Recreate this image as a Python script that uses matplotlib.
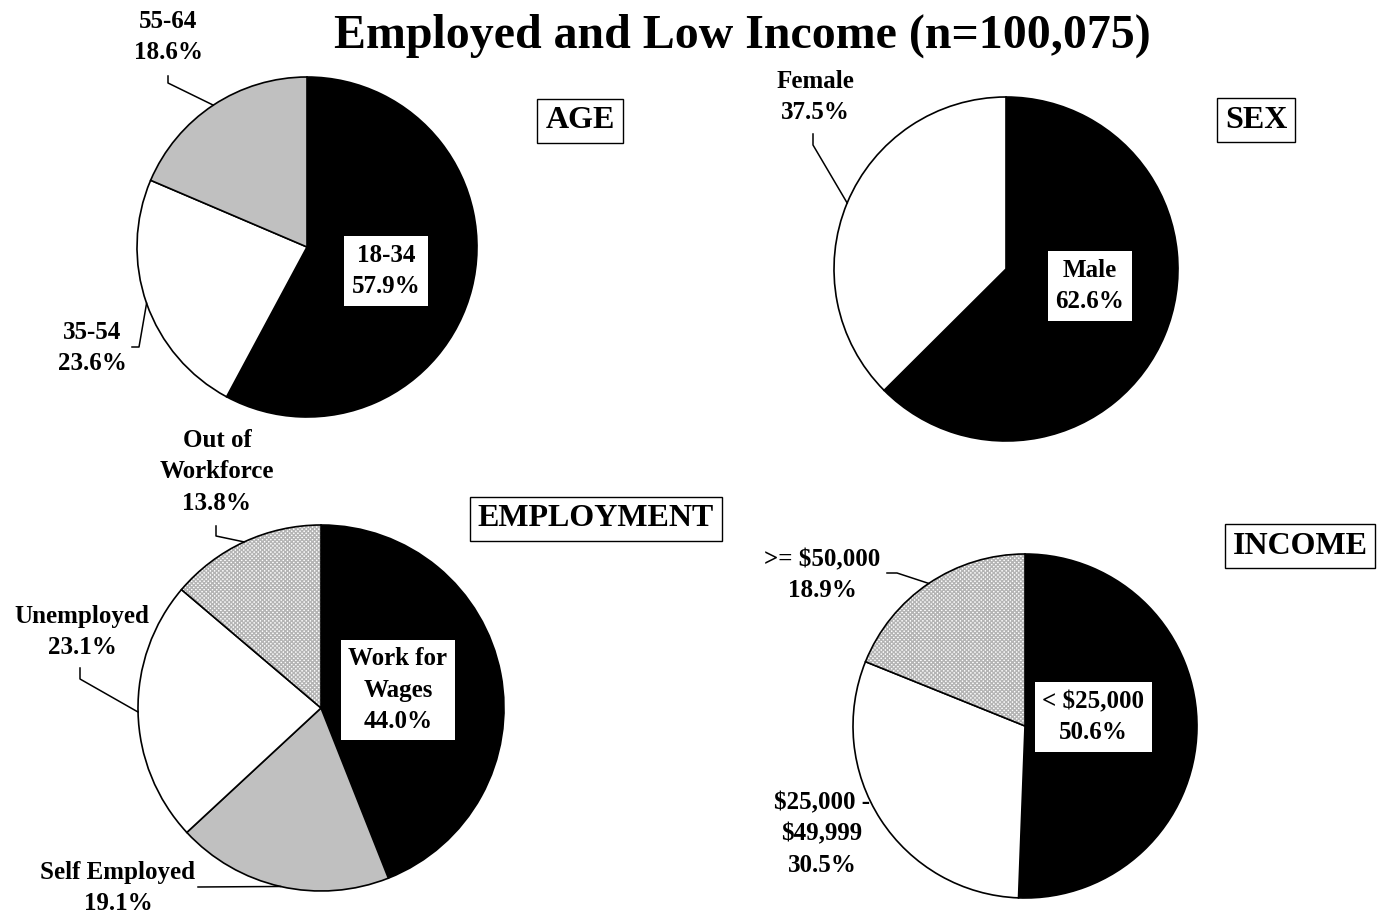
import numpy as np
import matplotlib
matplotlib.use("Agg")
import matplotlib.pyplot as plt
from matplotlib.patches import Wedge

plt.rcParams['font.family'] = ['Liberation Serif', 'DejaVu Serif']
plt.rcParams['font.weight'] = 'bold'

W, H = 1383, 917

# shares in percent
age_labels = ['18-34', '35-54', '55-64']
age_values = [57.9, 23.6, 18.6]
sex_labels = ['Male', 'Female']
sex_values = [62.6, 37.5]
emp_labels = ['Work for\nWages', 'Self Employed', 'Unemployed', 'Out of\nWorkforce']
emp_values = [44.0, 19.1, 23.1, 13.8]
inc_labels = ['< $25,000', '$25,000 -\n$49,999', '>= $50,000']
inc_values = [50.6, 30.5, 18.9]

BLACK, WHITE, GRAY, DOTS = 'black', 'white', '#c0c0c0', 'dots'

fig = plt.figure(figsize=(W / 100, H / 100), dpi=100)
ax = fig.add_axes([0, 0, 1, 1])


def P(x, y):
    # pixel position (y down) -> axes coords (y up)
    return x, H - y


def pie(values, colors, cx, cy, r):
    c = P(cx, cy)
    fc = [WHITE if k == DOTS else k for k in colors]
    wedges, _ = ax.pie(values, colors=fc, startangle=90, counterclock=False,
                       center=c, radius=r, frame=True, normalize=True,
                       wedgeprops=dict(edgecolor='black', linewidth=1.2))
    mids = []
    for w, k in zip(wedges, colors):
        if k == DOTS:
            w.set_hatch('xxxxxxxx')
            w.set_edgecolor('#b4b4b4')
            w.set_linewidth(0)
            ax.add_patch(Wedge(c, r, w.theta1, w.theta2, fill=False,
                               edgecolor='black', linewidth=1.2, zorder=3))
        a = np.deg2rad((w.theta1 + w.theta2) / 2)
        mids.append((c[0] + r * np.cos(a), c[1] + r * np.sin(a)))
    return mids


def label(text, x, y, size=18, box=False):
    kw = {}
    if box:
        kw['bbox'] = dict(boxstyle='square,pad=0.3', facecolor='white',
                          edgecolor='white', linewidth=0)
    ax.text(*P(x, y), text, ha='center', va='center', fontsize=size,
            fontweight='bold', linespacing=1.45, zorder=5, **kw)


def leader(tip, *pts):
    xs = [P(*p)[0] for p in pts] + [tip[0]]
    ys = [P(*p)[1] for p in pts] + [tip[1]]
    ax.plot(xs, ys, color='black', linewidth=1.1, zorder=4)


def header(text, x, y):
    ax.text(*P(x, y), text, ha='center', va='center', fontsize=23,
            fontweight='bold', zorder=5,
            bbox=dict(boxstyle='square,pad=0.25', facecolor='white',
                      edgecolor='black', linewidth=1.0))


# AGE
m = pie(age_values, [BLACK, WHITE, GRAY], 307, 247, 170)
label(f'{age_labels[0]}\n{age_values[0]:.1f}%', 386, 271, box=True)
label(f'{age_labels[1]}\n{age_values[1]:.1f}%', 92, 348)
label(f'{age_labels[2]}\n{age_values[2]:.1f}%', 168, 37)
leader(m[1], (132, 347), (139, 347))
leader(m[2], (168, 76), (168, 83))
header('AGE', 580, 121)

# SEX
m = pie(sex_values, [BLACK, WHITE], 1006, 269, 172)
label(f'{sex_labels[0]}\n{sex_values[0]:.1f}%', 1090, 286, box=True)
label(f'{sex_labels[1]}\n{sex_values[1]:.1f}%', 815, 97)
leader(m[1], (813, 134), (813, 145))
header('SEX', 1256, 120)

# EMPLOYMENT
m = pie(emp_values, [BLACK, GRAY, WHITE, DOTS], 321, 708, 183)
label(f'{emp_labels[0]}\n{emp_values[0]:.1f}%', 398, 690, box=True)
label(f'{emp_labels[1]}\n{emp_values[1]:.1f}%', 118, 888)
label(f'{emp_labels[2]}\n{emp_values[2]:.1f}%', 82, 632)
label(f'{emp_labels[3]}\n{emp_values[3]:.1f}%', 217, 472)
leader(m[1], (198, 887))
leader(m[2], (80, 668), (80, 679))
leader(m[3], (216, 526), (216, 536))
header('EMPLOYMENT', 596, 519)

# INCOME
m = pie(inc_values, [BLACK, WHITE, DOTS], 1025, 726, 172)
label(f'{inc_labels[0]}\n{inc_values[0]:.1f}%', 1093, 717, box=True)
label(f'{inc_labels[1]}\n{inc_values[1]:.1f}%', 822, 834)
label(f'{inc_labels[2]}\n{inc_values[2]:.1f}%', 822, 575)
leader(m[2], (887, 573), (897, 573))
header('INCOME', 1300, 546)

ax.text(*P(742, 36), 'Employed and Low Income (n=100,075)', ha='center',
        va='center', fontsize=34.5, fontweight='bold')

ax.set_xlim(0, W)
ax.set_ylim(0, H)
ax.set_aspect('auto')
ax.axis('off')

fig.savefig('out.png', dpi=100)
